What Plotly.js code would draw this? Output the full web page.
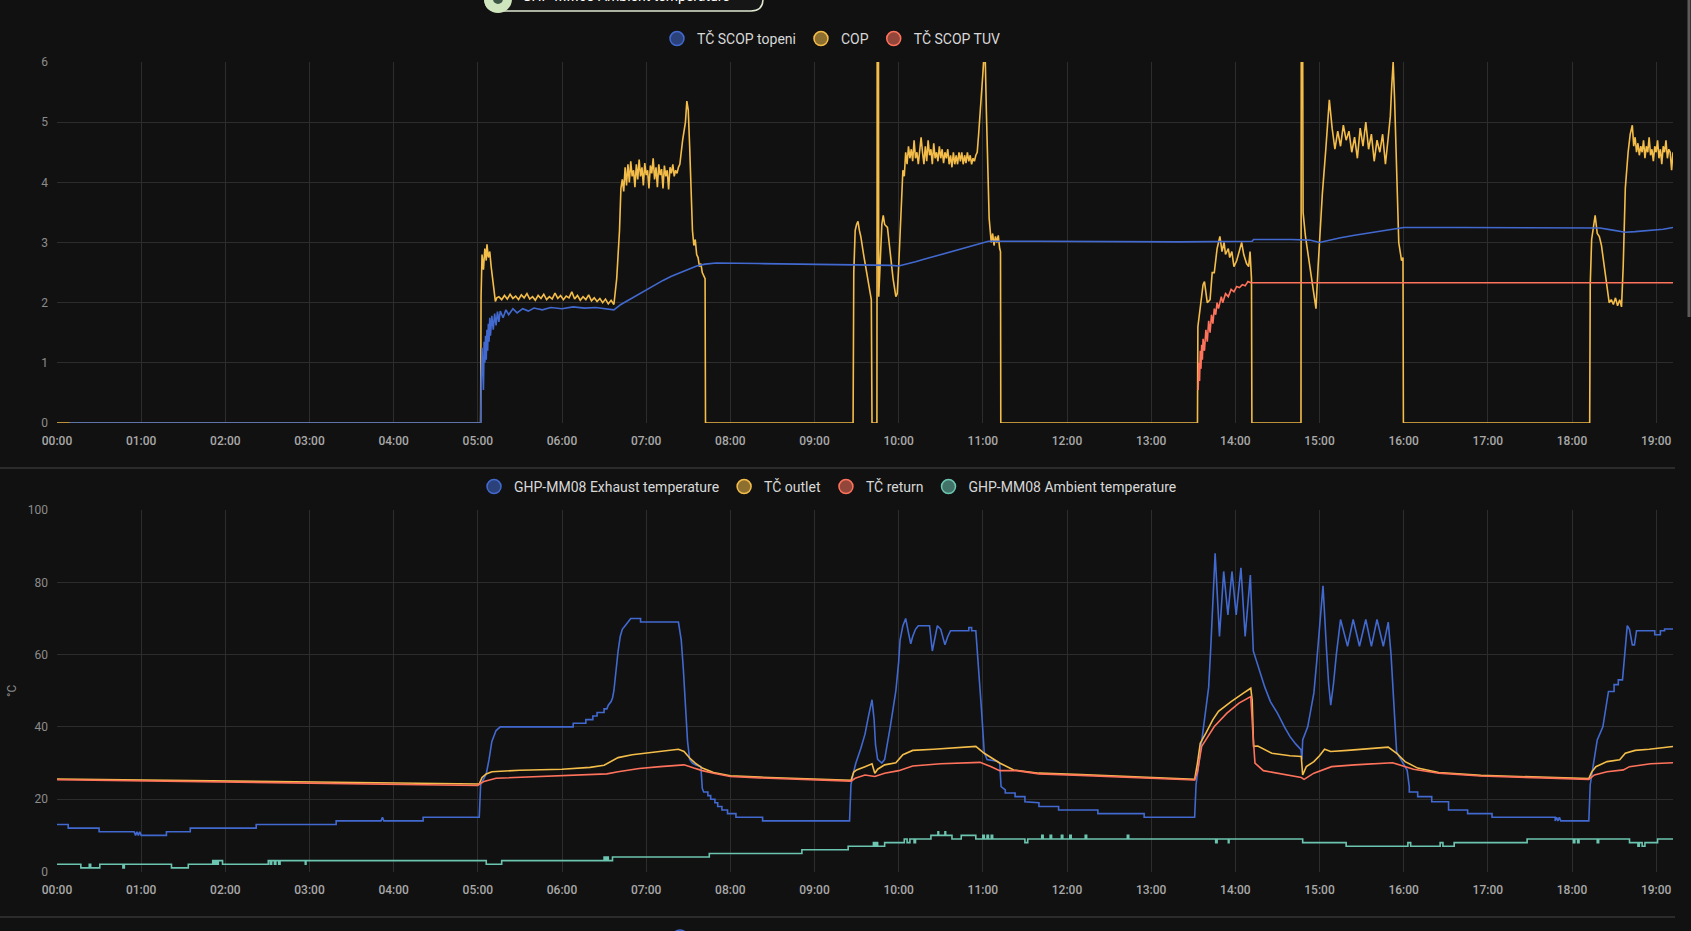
<!DOCTYPE html>
<html>
<head>
<meta charset="utf-8">
<title>TC history</title>
<script src="https://cdn.plot.ly/plotly-3.0.1.min.js"></script>
<style>
html,body{margin:0;padding:0;background:#111111;overflow:hidden;}
#chart{width:1691px;height:931px;}
</style>
</head>
<body>
<div id="chart"></div>
<script>
var day = '2024-01-15';

var scopTopeni = [[9,0],[302,0],[302.4,0.75],[303,1.25],[303.5,0.85],[304,0.55],[304.5,1.35],[305,1.0],[305.5,1.45],[306,1.05],
 [306.5,1.55],[307,1.2],[307.5,1.65],[308,1.35],[308.5,1.75],[309,1.45],[310,1.78],[311,1.55],[312,1.82],[313,1.62],
 [314,1.85],[315,1.68],[316,1.86],[318,1.75],[320,1.88],[322,1.8],[325,1.9],[328,1.83],[332,1.9],[336,1.86],
 [340,1.91],[346,1.88],[352,1.92],[360,1.9],[368,1.93],[376,1.91],[384,1.92],[392,1.9],[397,1.88],[402,1.97],
 [408,2.05],[414,2.14],[420,2.22],[426,2.3],[432,2.37],[438,2.44],[444,2.5],[450,2.56],[456,2.61],[462,2.64],
 [470,2.66],[500,2.65],[540,2.64],[570,2.63],[585,2.63],[595,2.62],[600,2.61],[606,2.64],[612,2.68],[618,2.72],
 [624,2.76],[630,2.8],[636,2.84],[642,2.88],[648,2.92],[654,2.96],[660,2.99],[664,3.02],[700,3.02],[760,3.01],
 [800,3.01],[852,3.02],[853,3.05],[880,3.05],[893,3.04],[900,3.0],[905,3.03],[915,3.08],[925,3.12],[935,3.16],
 [945,3.2],[955,3.23],[960,3.25],[1000,3.25],[1050,3.25],[1095,3.25],[1100,3.24],[1108,3.21],[1118,3.17],[1125,3.18],
 [1135,3.2],[1145,3.22],[1152,3.25]];

var cop = [[0,0],[302,0],[302.3,2.1],[303,2.8],[304,2.55],[305,2.9],[306,2.7],[306.5,2.97],[307.5,2.75],[308.5,2.85],
 [309.5,2.6],[310.5,2.4],[311.5,2.2],[312.5,2.02],[313.5,2.08],[315,2.1],[317,2.05],[319,2.12],[321,2.06],[323,2.14],
 [325,2.07],[327,2.11],[329,2.05],[331,2.13],[333,2.08],[335,2.15],[337,2.06],[339,2.1],[341,2.04],[343,2.12],
 [345,2.07],[347,2.14],[349,2.05],[351,2.1],[353,2.06],[355,2.16],[357,2.07],[359,2.12],[361,2.05],[363,2.11],
 [365,2.08],[367,2.18],[369,2.06],[371,2.12],[373,2.04],[375,2.1],[377,2.05],[379,2.13],[381,2.03],[383,2.08],
 [385,2.02],[387,2.07],[389,2.0],[391,2.06],[393,1.98],[395,2.04],[397,1.97],[399,2.4],[401,3.2],[402,3.9],
 [403,4.05],[404,3.85],[405,4.25],[406,3.95],[407,4.3],[408,4.0],[409,4.35],[410,4.1],[411,4.2],[412,3.92],
 [413,4.3],[414,4.05],[415,4.38],[416,4.1],[417,4.25],[418,3.95],[419,4.32],[420,4.12],[421,4.2],[422,3.9],
 [423,4.28],[424,4.15],[425,4.4],[426,4.05],[427,4.25],[428,3.92],[429,4.3],[430,4.12],[431,4.22],[432,3.9],
 [433,4.28],[434,4.1],[435,4.2],[436,3.88],[437,4.25],[438,4.15],[439,4.3],[440,4.1],[441,4.2],[442,4.15],
 [443,4.25],[444,4.3],[446,4.7],[448,5.0],[449,5.35],[450,5.2],[451,4.6],[452,3.9],[453,3.2],[454,2.95],
 [455,3.05],[456,2.8],[457,2.75],[458,2.6],[459,2.65],[460,2.5],[461,2.45],[462,2.4],[462.3,0],
 [567.5,0],[568,2.5],[569,3.2],[570,3.3],[571,3.35],[572,3.2],[573,3.1],[575,2.8],[577,2.5],[579,2.25],
 [580.5,2.05],[581,0],[584.5,0],[584.7,6.3],[585.6,6.3],[585.8,2.1],[587,2.8],[588,3.3],[589,3.45],[590,3.3],
 [592,3.25],[594,2.8],[596,2.4],[598,2.1],[599,2.15],[600,2.6],[601.5,3.5],[602.5,4.0],[603,4.2],[604,4.1],
 [605,4.5],[606,4.3],[607,4.6],[608,4.4],[609,4.55],[610,4.35],[611,4.7],[612,4.4],[613,4.5],[614,4.3],
 [615,4.6],[616,4.75],[617,4.5],[618,4.3],[619,4.6],[620,4.35],[621,4.7],[622,4.45],[623,4.55],[624,4.3],
 [625,4.65],[626,4.4],[627,4.5],[628,4.35],[629,4.6],[630,4.4],[631,4.55],[632,4.32],[633,4.5],[634,4.4],
 [635,4.55],[636,4.3],[637,4.45],[638,4.25],[639,4.5],[640,4.3],[641,4.45],[642,4.3],[643,4.5],[644,4.35],
 [645,4.5],[646,4.3],[647,4.45],[648,4.32],[649,4.5],[650,4.35],[651,4.45],[652,4.3],[653,4.4],[654,4.35],
 [655,4.45],[656,4.5],[657,4.8],[659,5.5],[660.5,6.1],[661.5,6.3],[662.5,5.2],[663.5,4.0],[664.5,3.4],[666,3.0],
 [667,3.15],[668,2.95],[669,3.1],[670,3.0],[671,3.12],[672,2.9],[672.6,2.85],[672.8,0],
 [813,0],[813.3,1.6],[815,1.9],[817,2.3],[818,2.35],[820,2.0],[822,2.05],[823.5,2.5],[825,2.5],[827,2.9],
 [829,3.1],[830.5,2.85],[832,3.0],[833,2.8],[835,2.9],[836,2.75],[837.5,2.85],[839,2.6],[841,2.7],[843,2.85],
 [844.5,3.0],[846,2.8],[848,2.65],[849.5,2.6],[850.5,2.85],[851.5,2.4],[851.8,0],
 [886.8,0],[887,6.3],[888,6.3],[888.3,3.5],[890,3.1],[893,2.65],[895,2.3],[897.5,1.9],[899,2.6],[902,3.8],
 [904.5,4.55],[907,5.37],[909,4.9],[911,4.55],[913,4.85],[915,4.6],[917,4.95],[919,4.7],[921,4.85],[923,4.5],
 [925,4.75],[927,4.4],[929,4.9],[931,4.6],[933,5.0],[935,4.55],[937,4.8],[939,4.35],[941,4.7],[943,4.5],
 [945,4.8],[947,4.3],[949,4.75],[950.5,5.1],[951.5,5.6],[952.5,6.0],[953.5,5.4],[954.5,4.5],[955.5,3.6],[956.5,3.0],
 [957.5,2.85],[958.5,2.7],[959.5,2.75],[959.8,0],
 [1092.6,0],[1093,2.3],[1094,3.05],[1095,3.2],[1096.5,3.45],[1098,3.15],[1099.5,3.1],[1101,2.95],[1103,2.6],[1105,2.2],
 [1106.5,2.0],[1108,2.05],[1109.5,1.97],[1111,2.08],[1112.5,1.95],[1114,2.05],[1115.3,1.93],[1116.5,2.6],[1118,3.9],[1120,4.5],
 [1121.5,4.8],[1123,4.95],[1124,4.6],[1125,4.75],[1126,4.5],[1127,4.65],[1128,4.45],[1129,4.6],[1130,4.5],[1131,4.7],
 [1132,4.4],[1133,4.6],[1134,4.5],[1135,4.75],[1136,4.45],[1137,4.55],[1138,4.35],[1139,4.6],[1140,4.5],[1141,4.7],
 [1142,4.4],[1143,4.55],[1144,4.3],[1145,4.6],[1146,4.5],[1147,4.7],[1148,4.4],[1149,4.55],[1150,4.5],[1151,4.2],[1152,4.5]];

var scopTuv = [[813.5,0.55],[814,1.0],[814.5,0.7],[815,1.2],[815.5,0.9],[816,1.3],[816.5,1.05],[817,1.4],[818,1.2],[819,1.55],
 [820,1.35],[821,1.7],[822,1.5],[823,1.8],[824,1.65],[825,1.9],[826,1.8],[827,2.0],[828,1.9],[830,2.1],
 [831,2.0],[833,2.15],[835,2.1],[837,2.22],[839,2.18],[841,2.27],[843,2.25],[845,2.3],[847,2.28],[849,2.35],
 [851,2.33],[1152,2.33]];

var exhaust = [[0,13],[8,13],[8,12],[30,12],[30,11],[55,11],[56,10],[57,11],[58,10],[59,11],[60,10],[78,10],[78,11],[95,11],[95,12],
 [142,12],[142,13],[199,13],[199,14],[231,14],[232,15],[233,14],[261,14],[261,15],[301,15],[302,24],[304,25.5],[306,27],[308,31],[310,36],
 [313,39],[316,40],[368,40],[368,41],[377,41],[377,42],[382,42],[382,43],[385,43],[385,44],[390,44],[390,45],[392,45],[393,46],[395,47],
 [396,48],[397,50],[398.5,56],[400,61],[401.5,65],[403,67],[405,68],[407,69],[409,70],[416,70],[416,69],[443,69],[445,64],[446.5,56],[448,44],
 [449.5,36],[451,31],[453,30],[455,29.5],[459,29],[460,23],[461,22],[464,22],[464,21],[466,21],[466,20],[469,20],[469,19],[471,19],[471,18],
 [474,18],[474,17],[478,17],[478,16],[484,16],[484,15],[503,15],[503,14],[565,14],[566,24],[567.5,27],[569.5,30],[573,34],[576,38],[578.5,43],
 [581,47.5],[582.5,42],[583.5,35],[585,31],[588,30],[590,31],[592,35],[594,40],[596,45],[598,50],[600,58],[601,64],[603,68],[605,70],[607,66],
 [608.6,63],[610,65],[612,67],[614,68],[622,68],[624,61],[626,65],[627.6,68],[630,67],[633,62.7],[635,65],[637,66.6],[650,66.6],[650,67.5],[652,67.5],
 [652,66.6],[655,66.6],[657,57],[659,45],[661,33],[663,31],[670,30.5],[672,30],[673,23.5],[676,22.6],[676,21.7],[683,21.7],[683,20.7],[690,20.7],[690,19.3],
 [700,19],[700,18],[714,18],[714,17],[742,17],[742,16],[775,16],[775,15],[811,15],[812,24],[814,30],[816,36.4],[818.5,44],[821,51],[822.5,62],
 [824,75],[825.6,88],[828.7,65],[831.7,83],[834.7,71],[837.6,83],[840.6,71],[844,84],[847,65],[850.7,82],[852.8,61],[856,57],[861,51],[865,47],[870,43.8],
 [875,40],[879,37.3],[883,35.3],[886.8,33.7],[887.5,31],[888,36.4],[891.6,40],[894,45],[896,49.4],[898,58],[900,67.8],[902.5,79],[905,61.4],[906.5,52],[908,46],
 [910,52],[912,60],[915,69.7],[920,62.3],[924,69.7],[928.5,62.3],[933,69.7],[937,62.3],[941,69.7],[945.5,62.3],[949,69],[951,60],[953,45],[955,33],[958,31],
 [962.5,28],[964,23.5],[964,22],[970,22],[970,20.7],[980,20.7],[980,19.3],[992,19.3],[992,17],[1005.6,17],[1005.6,16],[1023,16],[1023,15],[1068,15],[1068,14],
 [1069,15],[1070,14],[1071,15],[1072,14],[1092,14],[1093,24],[1095,29],[1098,36.4],[1102,40],[1104,45],[1105,48.4],[1106,49.8],[1110,49.8],[1110,51.7],[1113,51.7],
 [1113,53],[1116,53],[1117,58],[1118.5,65],[1119.4,68],[1121,67],[1123,62.7],[1124.5,62.7],[1126,66.6],[1139,66.6],[1139,65.5],[1143,65.5],[1143,66.6],[1146,66.6],[1146,67.1],
 [1152,67.1]];

var outlet = [[0,25.6],[60,25.3],[120,25],[180,24.7],[240,24.4],[300,24.0],[301,24.2],[303,26],[306,27],[310,27.6],[330,28],[360,28.3],[380,28.8],[390,29.4],
 [395,30.4],[400,31.5],[410,32.3],[420,32.8],[435,33.4],[443,33.8],[447,33.2],[451,31.4],[455,30],[460,28.6],[468,27.4],[480,26.5],[501,26.1],[542,25.5],
 [566,25.2],[568,27.5],[570,28.1],[576,29],[581,29.8],[583,27.2],[585,28.3],[590,29.5],[598,30.1],[603,32.3],[610,33.5],[625,33.8],[640,34.2],[655,34.6],
 [661,32.7],[666,31.4],[672,30],[682,28.1],[700,27.2],[730,26.8],[761,26.3],[811,25.5],[813,30],[815,35.5],[819,38.3],[824,42],[828,44.3],[837,47],
 [846,49.4],[851,50.7],[852,47.5],[853,34.6],[856,34.7],[866,32.7],[879,32],[887,31.8],[888,26.7],[890.6,29],[896,30.4],[900,32],[903.6,33.8],[908,33.2],
 [920,33.5],[935,34],[949,34.4],[955,32.7],[961,30.4],[970,28.6],[985,27.4],[1015,26.6],[1059,26.1],[1092,25.7],[1094,27.5],[1097,29],[1105,30.4],[1114,30.9],
 [1118,32.7],[1125,33.5],[1135,33.8],[1152,34.6]];

var ret = [[0,25.4],[60,25.1],[120,24.8],[180,24.5],[240,24.2],[300,23.8],[302,24.4],[305,25],[313,25.8],[350,26.3],[380,26.7],[392,27],[400,27.6],[415,28.5],
 [430,29],[440,29.3],[447,29.5],[454,28.6],[460,27.9],[468,27.2],[480,26.3],[501,25.9],[542,25.3],[566,25.0],[569,25.8],[576,26.7],[583,26.3],[590,27.2],
 [600,27.9],[610,29.2],[630,29.8],[658,30.2],[666,29],[672,27.9],[684,27.9],[700,27.0],[730,26.6],[761,26.1],[811,25.3],[813,27.6],[816,34.6],[825,40.1],
 [834,43.8],[842.6,46.6],[851,48.4],[852.5,38.3],[854,30],[860,27.9],[879,26.7],[887,26],[889,25.5],[896,27.2],[908.6,29],[925,29.5],[952,30.1],[961,29],
 [967,28.3],[985,27.2],[1015,26.4],[1059,25.9],[1092,25.5],[1096,26.7],[1105,27.6],[1116.6,28.1],[1121,29],[1136,29.8],[1152,30.1]];

var ambient = [[0,2],[17,1],[23,2],[24,1],[30.5,2],[47,1],[48,2],[81.6,1],[93.6,2],[111,3],[112,2],[113,3],[114,2],[115,3],[118,2],
 [150.6,3],[152,2],[153,3],[155,2],[156,3],[158,2],[159,3],[177,2],[177.5,3],[306,2],[317,3],[390,4],[391,3],[392,4],[393,3],
 [396,4],[465,5],[531,6],[564,7],[582,8],[583,7],[584,8],[585,7],[590,8],[604,9],[606,8],[608,9],[611,8],[612,9],[623,10],
 [628,11],[628.5,10],[633,11],[633.5,10],[638,9],[644.6,10],[655,9],[660,10],[661,9],[663,10],[664,9],[666,10],[667,9],[690,8],[692,9],
 [702,10],[703,9],[708,10],[709,9],[716,10],[717,9],[722,10],[723,9],[733,10],[734,9],[763,10],[764,9],[826,8],[827,9],[835,8],
 [835.5,9],[888,8],[919,7],[963,8],[965,7],[986,8],[988,7],[996,8],[1048,9],[1081,8],[1082,9],[1084,8],[1085,9],[1098,8],[1099,9],
 [1121,8],[1127,7],[1128,8],[1130,7],[1132,8],[1141,9],[1152,9]];

var topNames = ['TČ SCOP topeni', 'COP', 'TČ SCOP TUV'];
var botNames = ['GHP-MM08 Exhaust temperature', 'TČ outlet', 'TČ return', 'GHP-MM08 Ambient temperature'];
var blue = '#4269d0', yellow = '#f4bd4a', red = '#ff725c', teal = '#6cc5b0';

function stamp(m){
  var s = Math.round(m*60);
  var hh = Math.floor(s/3600), mm = Math.floor(s%3600/60), ss = s%60;
  function p(n){return (n<10?'0':'')+n;}
  return day+' '+p(hh)+':'+p(mm)+':'+p(ss);
}
function line(pts, name, col, xa, ya, shape){
  return {x: pts.map(function(p){return stamp(p[0]);}), y: pts.map(function(p){return p[1];}),
    name: name, type: 'scatter', mode: 'lines', xaxis: xa, yaxis: ya, showlegend: false,
    line: {color: col, width: 1.6, shape: shape || 'linear'}, hoverinfo: 'skip'};
}
function dot(name, col, rgba, leg){ // legend entries only
  return {x: [null], y: [null], name: name, type: 'scatter', mode: 'markers', legend: leg,
    xaxis: leg=='legend' ? 'x' : 'x2', yaxis: leg=='legend' ? 'y' : 'y2',
    marker: {symbol: 'circle', size: 14, color: rgba, line: {color: col, width: 1.5}}};
}

var W = 1691, H = 931;
function px(x){return x/W;}
function py(y){return 1-y/H;}
function rrect(x0,y0,x1,y1,r){ // rounded box path in paper units
  return 'M'+px(x0+r)+','+py(y0)+' L'+px(x1-r)+','+py(y0)+' Q'+px(x1)+','+py(y0)+' '+px(x1)+','+py(y0+r)+
    ' L'+px(x1)+','+py(y1-r)+' Q'+px(x1)+','+py(y1)+' '+px(x1-r)+','+py(y1)+' L'+px(x0+r)+','+py(y1)+
    ' Q'+px(x0)+','+py(y1)+' '+px(x0)+','+py(y1-r)+' L'+px(x0)+','+py(y0+r)+' Q'+px(x0)+','+py(y0)+' '+px(x0+r)+','+py(y0)+' Z';
}

var traces = [
  line(cop, topNames[1], yellow, 'x', 'y'),
  line(scopTopeni, topNames[0], blue, 'x', 'y'),
  line(scopTuv, topNames[2], red, 'x', 'y'),
  line(exhaust, botNames[0], blue, 'x2', 'y2'),
  line(outlet, botNames[1], yellow, 'x2', 'y2'),
  line(ret, botNames[2], red, 'x2', 'y2'),
  line(ambient, botNames[3], teal, 'x2', 'y2', 'hv'),
  dot(topNames[0], blue, 'rgba(66,105,208,0.55)', 'legend'),
  dot(topNames[1], yellow, 'rgba(244,189,74,0.55)', 'legend'),
  dot(topNames[2], red, 'rgba(255,114,92,0.55)', 'legend'),
  dot(botNames[0], blue, 'rgba(66,105,208,0.55)', 'legend2'),
  dot(botNames[1], yellow, 'rgba(244,189,74,0.55)', 'legend2'),
  dot(botNames[2], red, 'rgba(255,114,92,0.55)', 'legend2'),
  dot(botNames[3], teal, 'rgba(108,197,176,0.55)', 'legend2')
];

var xr = [day+' 00:00:00', day+' 19:12:00'];
var xdom = [px(57), px(1673)];
var xtick = {family: 'Roboto, sans-serif', size: 12, color: '#a9a9a9', weight: 500};
var ytick = {family: 'Roboto, sans-serif', size: 12, color: '#8c8c8c'};
var grid = '#2d2d2d';

var layout = {
  width: W, height: H,
  margin: {l: 0, r: 0, t: 0, b: 0},
  paper_bgcolor: '#111111', plot_bgcolor: '#111111',
  font: {family: 'Roboto, sans-serif', color: '#e1e1e1'},
  xaxis: {type: 'date', domain: xdom, range: xr, anchor: 'y', dtick: 3600000, tickformat: '%H:%M',
    showgrid: true, gridcolor: grid, zeroline: false, ticks: '', tickfont: xtick, ticklabelstandoff: 9, fixedrange: true},
  yaxis: {domain: [py(423), py(62)], range: [0, 6], dtick: 1, anchor: 'x', showgrid: true, gridcolor: grid,
    zeroline: false, ticks: '', tickfont: ytick, ticklabelstandoff: 8, fixedrange: true},
  xaxis2: {type: 'date', domain: xdom, range: xr, anchor: 'y2', dtick: 3600000, tickformat: '%H:%M',
    showgrid: true, gridcolor: grid, zeroline: false, ticks: '', tickfont: xtick, ticklabelstandoff: 9, fixedrange: true},
  yaxis2: {domain: [py(871.5), py(510)], range: [0, 100], dtick: 20, anchor: 'x2', showgrid: true, gridcolor: grid,
    zeroline: false, ticks: '', tickfont: ytick, ticklabelstandoff: 8, fixedrange: true},
  legend: {orientation: 'h', x: px(831), xanchor: 'center', y: py(39), yanchor: 'middle',
    font: {size: 14, color: '#d8d8d8'}, bgcolor: 'rgba(0,0,0,0)', itemclick: false, itemdoubleclick: false},
  legend2: {orientation: 'h', x: px(828), xanchor: 'center', y: py(487), yanchor: 'middle',
    font: {size: 14, color: '#d8d8d8'}, bgcolor: 'rgba(0,0,0,0)', itemclick: false, itemdoubleclick: false},
  shapes: [
    {type: 'line', xref: 'paper', yref: 'paper', x0: 0, x1: px(1675), y0: py(468), y1: py(468), line: {color: '#2b2b2b', width: 2}},
    {type: 'line', xref: 'paper', yref: 'paper', x0: 0, x1: px(1675), y0: py(917), y1: py(917), line: {color: '#2b2b2b', width: 2}},
    {type: 'line', xref: 'paper', yref: 'paper', x0: px(1689), x1: px(1689), y0: py(0), y1: py(317), line: {color: '#5c5c5c', width: 3}},
    {type: 'path', xref: 'paper', yref: 'paper', path: rrect(485, -30, 763, 11, 12), fillcolor: '#161616', line: {color: '#dfe8cf', width: 1.5}},
    {type: 'circle', xref: 'paper', yref: 'paper', x0: px(484), x1: px(512), y0: py(13), y1: py(-15), fillcolor: '#cfe5bd', line: {width: 0}},
    {type: 'circle', xref: 'paper', yref: 'paper', x0: px(493), x1: px(503), y0: py(4), y1: py(-6), fillcolor: '#3c5646', line: {width: 0}},
    {type: 'circle', xref: 'paper', yref: 'paper', x0: px(672), x1: px(688), y0: py(946), y1: py(930), fillcolor: 'rgba(66,105,208,0.55)', line: {color: blue, width: 1.5}}
  ],
  annotations: [
    {xref: 'paper', yref: 'paper', x: px(520), y: py(-4), xanchor: 'left', yanchor: 'middle', showarrow: false,
      text: 'GHP-MM08 Ambient temperature', font: {size: 14, color: '#ffffff'}},
    {xref: 'paper', yref: 'paper', x: px(12), y: py(691), xanchor: 'center', yanchor: 'middle', showarrow: false,
      text: '°C', textangle: -90, font: {size: 12, color: '#8c8c8c'}}
  ]
};

Plotly.newPlot('chart', traces, layout, {displayModeBar: false, staticPlot: true});
</script>
</body>
</html>
